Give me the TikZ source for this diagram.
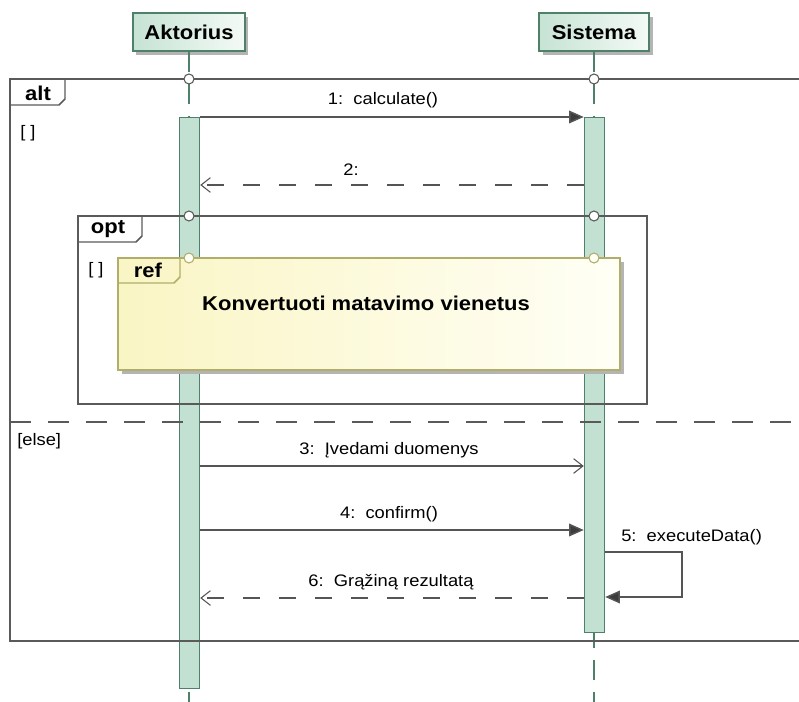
\documentclass[tikz,border=0pt]{standalone}
\usepackage{fontspec}
\setmainfont{Liberation Sans}[FakeStretch=1.1]
\usetikzlibrary{arrows.meta}

\definecolor{lifeC}{HTML}{4E806A}
\definecolor{barFill}{HTML}{C3E1D3}
\definecolor{headL}{HTML}{C6E3D4}
\definecolor{headR}{HTML}{F4FAF7}
\definecolor{refL}{HTML}{FAF5C4}
\definecolor{refR}{HTML}{FFFFF6}
\definecolor{refEdge}{HTML}{B0AE6A}
\definecolor{frameC}{HTML}{5A5A5A}
\definecolor{msgC}{HTML}{555555}
\definecolor{tipC}{HTML}{3C3C3C}
\definecolor{shadowC}{HTML}{B4B4B4}

\begin{document}
\begin{tikzpicture}[x=0.75pt,y=-0.75pt,
  lbl/.style={font=\fontsize{12.5}{15}\selectfont, text=black, inner sep=0pt},
  boldlbl/.style={font=\fontsize{15}{17}\selectfont\bfseries, text=black, inner sep=0pt},
  head/.style={draw=lifeC, line width=1.1pt, left color=headL, right color=headR,
    minimum height=28.5pt, inner sep=0pt, font=\fontsize{15}{17}\selectfont\bfseries},
  bar/.style={draw=lifeC, line width=1.1pt, fill=barFill, minimum width=15pt, inner sep=0pt},
  life/.style={draw=lifeC, line width=1.1pt, dash pattern=on 15pt off 9pt},
  frame/.style={draw=frameC, line width=1.1pt},
  msg/.style={draw=msgC, line width=1.1pt},
  call/.style={msg, -{Triangle[length=11pt,width=9.5pt,fill=tipC]}},
  async/.style={msg, -{Straight Barb[length=7pt,width=11pt,line width=0.8pt]}},
  reply/.style={msg, dash pattern=on 12.75pt off 14.25pt,
    -{Straight Barb[length=7pt,width=11pt,line width=0.8pt]}},
  gate/.style={circle, draw=frameC, fill=white, line width=0.8pt, minimum size=7.5pt, inner sep=0pt},
  refgate/.style={circle, draw=refEdge, fill=refR, line width=0.8pt, minimum size=7.5pt, inner sep=0pt},
  shadow/.style={fill=shadowC, draw=none}]

\useasboundingbox (0,0) rectangle (799,702);

% lifeline heads
\fill[shadow] (136,17) rectangle (248,55);
\fill[shadow] (543,17) rectangle (653,55);
\node[head, minimum width=84pt] (headA) at (189,32) {Aktorius};
\node[head, minimum width=82.5pt] (headB) at (594,32) {Sistema};

% lifelines
\coordinate (endA) at (189,710);
\coordinate (endB) at (594,710);
\draw[life] (headA.south) -- (endA);
\draw[life] (headB.south) -- (endB);

% activation bars
\node[bar, anchor=north, minimum height=428.25pt] (barA) at (189.5,117) {};
\node[bar, anchor=north, minimum height=386.25pt] (barB) at (594.5,117) {};

% alt fragment
\draw[frame] (830,79) -- (10,79) -- (10,641) -- (830,641);
\draw[frame] (10,105) -- (59,105) -- (65,99) -- (65,79);
\node[boldlbl] (altT) at (38,93) {alt};
\node[lbl, anchor=west] (g1) at (20,133) {[ ]};
\node[gate] (gA1) at (189,79) {};
\node[gate] (gB1) at (594,79) {};
\draw[frame, dash pattern=on 15.75pt off 12.75pt] (10,422) -- (830,422);
\node[lbl, anchor=west] (g2) at (17,441) {[else]};

% message 1 and 2
\coordinate (y1) at (0,117);
\coordinate (y2) at (0,185);
\draw[call] (barA.east |- y1) -- (barB.west |- y1);
\node[lbl] (m1) at (383,100) {1:\ \ calculate()};
\draw[reply] (barB.west |- y2) -- (barA.east |- y2);
\node[lbl] (m2) at (351,170) {2:};

% opt fragment
\draw[frame] (78,216) rectangle (647,404);
\draw[frame] (78,242) -- (136,242) -- (142,236) -- (142,216);
\node[boldlbl] (optT) at (108,229) {opt};
\node[lbl, anchor=west] (g3) at (88,270) {[ ]};
\node[gate] (gA2) at (189,216) {};
\node[gate] (gB2) at (594,216) {};

% interaction use
\fill[shadow] (122,262) rectangle (624,374);
\draw[draw=refEdge, line width=1.1pt, left color=refL, right color=refR] (118,258) rectangle (620,370);
\draw[draw=refEdge, line width=1.1pt] (118,283) -- (174,283) -- (180,277) -- (180,258);
\node[boldlbl] (refT) at (148,270) {ref};
\node[boldlbl] (refBody) at (366,303) {Konvertuoti matavimo vienetus};
\node[refgate] (gA3) at (189,258) {};
\node[refgate] (gB3) at (594,258) {};

% messages 3 to 6
\coordinate (y3) at (0,466);
\coordinate (y4) at (0,530);
\coordinate (y5a) at (0,552);
\coordinate (y5b) at (0,597);
\coordinate (y6) at (0,598);
\draw[async] (barA.east |- y3) -- (barB.west |- y3);
\node[lbl] (m3) at (389,450) {3:\ \ Įvedami duomenys};
\draw[call] (barA.east |- y4) -- (barB.west |- y4);
\node[lbl] (m4) at (389,514) {4:\ \ confirm()};
\draw[call] (barB.east |- y5a) -- (682,552) -- (682,597) -- (barB.east |- y5b);
\node[lbl, anchor=west] (m5) at (621,537) {5:\ \ executeData()};
\draw[reply] (barB.west |- y6) -- (barA.east |- y6);
\node[lbl] (m6) at (391,582) {6:\ \ Grąžiną rezultatą};

\end{tikzpicture}
\end{document}
